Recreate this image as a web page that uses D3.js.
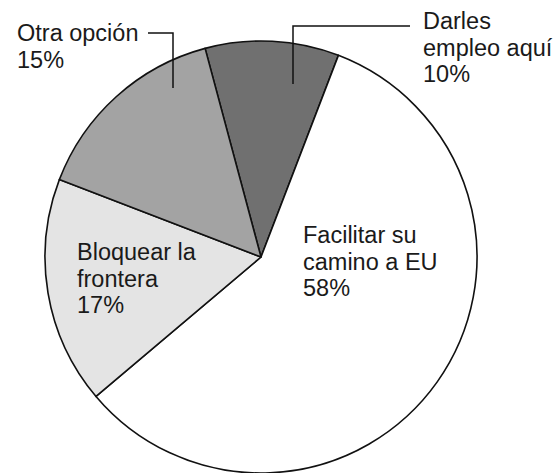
<!DOCTYPE html>
<html>
<head>
<meta charset="utf-8">
<script src="https://cdn.jsdelivr.net/npm/d3@7"></script>
<style>
  html, body { margin: 0; padding: 0; background: #ffffff; }
  svg { display: block; }
  text { font-family: "Liberation Sans", Arial, sans-serif; fill: #1a1a1a; }
</style>
</head>
<body>
<svg id="chart" width="556" height="473"></svg>
<script>
// Data
const categories = ["Darles empleo aquí", "Facilitar su camino a EU", "Bloquear la frontera", "Otra opción"];
const values = [10, 58, 17, 15];
const labelLines = [
  ["Darles", "empleo aquí", "10%"],
  ["Facilitar su", "camino a EU", "58%"],
  ["Bloquear la", "frontera", "17%"],
  ["Otra opción", "15%"]
];
const colors = ["#707070", "#ffffff", "#e4e4e4", "#a3a3a3"];

const W = 556, H = 473;
const cx = 261, cy = 257, R = 216;
const svg = d3.select("#chart");

const pie = d3.pie().sort(null).value(d => d.value)
  .startAngle(-15 * Math.PI / 180)
  .endAngle(345 * Math.PI / 180);
const data = categories.map((c, i) => ({ name: c, value: values[i], color: colors[i], lines: labelLines[i] }));
const arcs = pie(data);
const arc = d3.arc().innerRadius(0).outerRadius(R);

const g = svg.append("g").attr("transform", `translate(${cx},${cy})`);
g.selectAll("path.slice").data(arcs).enter().append("path")
  .attr("class", "slice")
  .attr("d", arc)
  .attr("fill", d => d.data.color)
  .attr("stroke", "#111")
  .attr("stroke-width", 1.6)
  .attr("stroke-linejoin", "round");

// Label positions (layout)
const fontSize = 23.5, lineH = 26.5;
const labelPos = [
  { x: 423, y: 29 },
  { x: 303, y: 243 },
  { x: 77, y: 260 },
  { x: 17, y: 41 }
];
arcs.forEach((a, i) => {
  const t = svg.append("text")
    .attr("x", labelPos[i].x).attr("y", labelPos[i].y)
    .attr("font-size", fontSize);
  a.data.lines.forEach((ln, j) => {
    t.append("tspan").attr("x", labelPos[i].x).attr("dy", j === 0 ? 0 : lineH).text(ln);
  });
});

// Leader lines
const leaders = [
  [[410, 26], [293, 26], [293, 84]],
  [[148, 33], [173, 33], [173, 88]]
];
const line = d3.line();
leaders.forEach(pts => {
  svg.append("path").attr("d", line(pts))
    .attr("fill", "none").attr("stroke", "#111").attr("stroke-width", 1.5);
});
</script>
</body>
</html>
